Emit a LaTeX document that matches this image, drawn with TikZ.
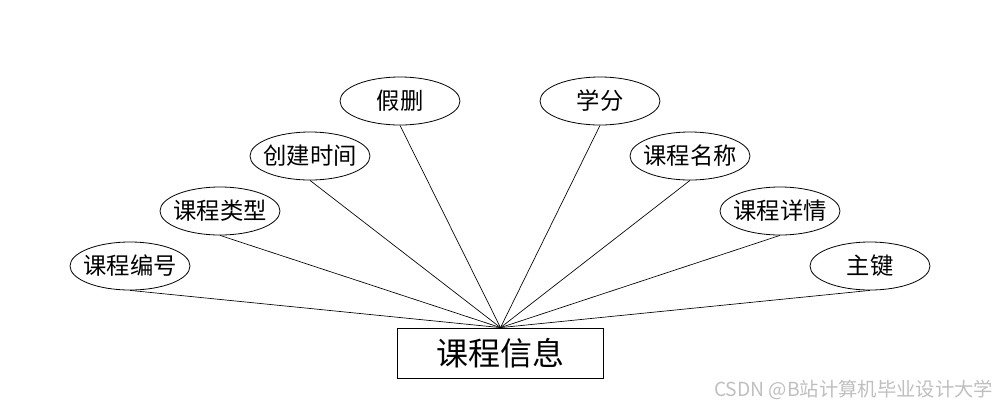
\documentclass[tikz,border=0pt]{standalone}
\usepackage{fontspec}
\setmainfont{Noto Sans CJK SC}
\usetikzlibrary{shapes.geometric}
\newcommand{\zw}[1]{\makebox[0pt]{#1}}
\begin{document}
\begin{tikzpicture}[x=0.75pt,y=-0.75pt,
  attr/.style={draw,ellipse,line width=0.6pt,minimum width=90pt,minimum height=36pt,inner sep=0pt,font=\fontsize{17.5}{18}\selectfont},
  ent/.style={draw,rectangle,line width=0.6pt,minimum width=155pt,minimum height=37.5pt,inner sep=0pt,font=\fontsize{24}{25}\selectfont},
  conn/.style={line width=0.5pt}]
\useasboundingbox (0,0) rectangle (1000,408);
\node[ent] (box) at (500.5,353) {课程信息};
\node[attr] (a1) at (130,266) {\zw{课程编号}};
\node[attr] (a2) at (220,211) {\zw{课程类型}};
\node[attr] (a3) at (310,156) {\zw{创建时间}};
\node[attr] (a4) at (400,101) {\zw{假删}};
\node[attr] (a5) at (600,101) {\zw{学分}};
\node[attr] (a6) at (690,156) {\zw{课程名称}};
\node[attr] (a7) at (780,211) {\zw{课程详情}};
\node[attr] (a8) at (870,266) {\zw{主键}};
\foreach \i in {1,...,8} \draw[conn] (a\i.south) -- (box.north);
\node[text=black!25,font=\fontsize{14.5}{15}\selectfont,anchor=east] (wm) at (998,390) {CSDN @B站计算机毕业设计大学};
\end{tikzpicture}
\end{document}
